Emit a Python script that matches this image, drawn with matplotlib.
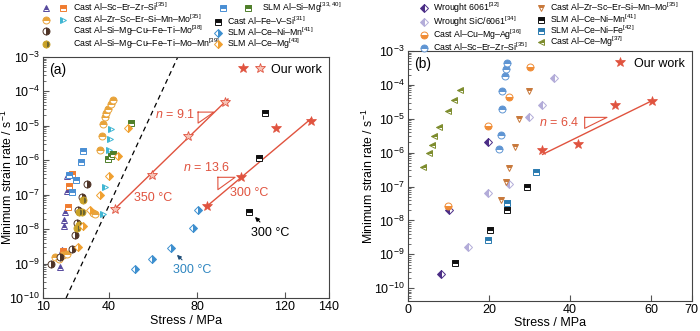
import numpy as np
import matplotlib
matplotlib.use("Agg")
import matplotlib.pyplot as plt
from matplotlib.lines import Line2D
from matplotlib.legend_handler import HandlerTuple
from matplotlib.ticker import LogLocator, NullFormatter, FixedLocator

plt.rcParams['font.family'] = ['Liberation Sans', 'DejaVu Sans']
plt.rcParams['mathtext.fontset'] = 'custom'
plt.rcParams['mathtext.rm'] = 'Liberation Sans'
plt.rcParams['mathtext.it'] = 'Liberation Sans:italic'
plt.rcParams['font.size'] = 9

# ---------------- panel (a) data ----------------
tri_scerzr_x = [17.7, 18.5, 19.5, 19.5, 20.0, 20.8, 21.0]
tri_scerzr_y = [8.1e-10, 2.5e-9, 1.2e-8, 1.9e-8, 3.2e-8, 1.3e-7, 3.5e-7]
sq_scerzr_x = [19.2, 21.5, 22.0, 23.0]
sq_scerzr_y = [2.3e-9, 4.5e-8, 1.8e-7, 4.0e-7]
circ_mnmo_x = [15.5, 17.4, 19.2, 20.8, 32.9, 33.6, 35.9, 36.7, 37.4, 38.2, 38.6, 39.7, 40.8, 41.7]
circ_mnmo_y = [1.5e-9, 1.4e-9, 1.8e-9, 1.9e-9, 2.9e-8, 2.8e-8, 2.0e-6, 5.1e-6, 1.1e-5,
               1.8e-5, 2.3e-5, 3.0e-5, 4.3e-5, 5.6e-5]
rtri_mnmo_x = [37.4, 38.2, 40.1, 40.5, 40.9]
rtri_mnmo_y = [2.8e-8, 1.7e-7, 2.0e-6, 4.1e-6, 7.9e-6]
circ_mo_x = [13.6, 17.7, 23.0, 24.5, 25.3, 26.0, 27.6, 29.9]
circ_mo_y = [9.8e-10, 1.6e-9, 2.6e-9, 6.8e-9, 1.5e-8, 3.6e-8, 8.7e-8, 2.1e-7]
circ_momn_x = [25.3, 26.5, 26.5, 27.6, 28.0]
circ_momn_y = [1.1e-8, 1.3e-8, 3.2e-8, 3.1e-8, 7.1e-8]
sq_slm_blue_x = [21.9, 23.0, 25.0, 27.1, 28.0]
sq_slm_blue_y = [3.7e-7, 1.2e-7, 2.6e-7, 9.1e-7, 1.9e-6]
sq_slm_green_x = [39.7, 40.8, 41.7, 49.9]
sq_slm_green_y = [1.1e-6, 1.3e-6, 1.5e-6, 1.2e-5]
sq_fevsi_x = [103.8, 108.2, 110.9]
sq_fevsi_y = [3.2e-8, 1.2e-6, 2.3e-5]
dia_nimn_x = [51.8, 59.4, 68.0, 78.3, 80.6]
dia_nimn_y = [6.9e-10, 1.35e-9, 2.8e-9, 1.1e-8, 3.5e-8]
dia_cemg_x = [26.0, 28.3, 31.4, 36.0, 40.1, 44.2, 48.8]
dia_cemg_y = [3.1e-9, 1.2e-8, 3.5e-8, 1.0e-7, 3.6e-7, 1.3e-6, 8.5e-6]
star350_x = [42.7, 59.7, 75.8, 92.7]
star350_y = [3.9e-8, 3.7e-7, 5.1e-6, 4.8e-5]
star300_x = [84.7, 99.9, 115.9, 131.7]
star300_y = [4.8e-8, 3.2e-7, 8.5e-6, 1.4e-5]
fit350_x = [42.7, 94.1]
fit350_y = [3.9e-8, 6.0e-5]
fit300_x = [84.1, 132.1]
fit300_y = [4.4e-8, 1.66e-5]
dash_x = [20.5, 71.3]
dash_y = [1e-10, 1e-3]
slope1_x = [80.5, 87.7, 80.5, 80.5]
slope1_y = [2.5e-5, 2.5e-5, 1.2e-5, 2.5e-5]
slope2_x = [89.5, 97.3, 89.5, 89.5]
slope2_y = [3.2e-7, 3.2e-7, 1.4e-7, 3.2e-7]

# ---------------- panel (b) data ----------------
w6061_x = [8.2, 10.0, 19.8]
w6061_y = [2.7e-10, 2.0e-8, 2.0e-6]
sic6061_x = [14.7, 19.8, 25.0, 29.9, 33.0, 36.1]
sic6061_y = [1.6e-9, 6.6e-8, 1.2e-7, 1.1e-5, 2.6e-5, 1.6e-4]
cumgag_x = [9.8, 19.8, 24.9, 30.0]
cumgag_y = [2.6e-8, 6.1e-6, 4.4e-5, 3.4e-4]
scerzr_b_x = [22.4, 22.9, 23.1, 23.2, 23.9, 24.2, 24.5]
scerzr_b_y = [1.3e-6, 3.3e-6, 2.0e-5, 6.7e-5, 1.8e-4, 2.9e-4, 4.5e-4]
mnmo_b_x = [22.9, 24.1, 24.9, 26.3, 27.3, 29.9]
mnmo_b_y = [4.0e-8, 1.4e-7, 3.5e-7, 1.5e-6, 9.8e-6, 6.7e-5]
nimn_b_x = [11.7, 20.2, 24.5, 29.3]
nimn_b_y = [5.6e-10, 5.2e-9, 2.0e-8, 9.8e-8]
nife_b_x = [19.8, 24.5, 31.5]
nife_b_y = [2.6e-9, 3.2e-8, 2.6e-7]
cemg_b_x = [3.7, 5.2, 5.8, 6.4, 7.6, 9.8, 11.3, 12.9]
cemg_b_y = [3.7e-7, 1.0e-6, 1.7e-6, 3.0e-6, 5.6e-6, 1.7e-5, 3.6e-5, 7.1e-5]
star_b_x = [33.0, 42.0, 51.0, 60.2]
star_b_y = [1.2e-6, 1.8e-6, 2.6e-5, 3.4e-5]
fit_b_x = [33.2, 60.2]
fit_b_y = [8.9e-7, 3.4e-5]
slope_b_x = [43.6, 49.1, 43.6, 43.6]
slope_b_y = [1.1e-5, 1.1e-5, 5.2e-6, 1.1e-5]

red = '#e0533f'


def mk(marker, color, fs='top', alt='white', ms=5.0):
    return dict(marker=marker, linestyle='none', color=color, mec=color, mfc=color,
                markerfacecoloralt=alt, fillstyle=fs, ms=ms, mew=0.7)


st_tri = mk('^', '#574a9e')
st_sq_or = mk('s', '#f07c30', ms=4.5)
st_circ_gold = mk('o', '#e8a33a')
st_rtri = mk('>', '#3fb6d3', fs='left')
st_circ_brown = mk('o', '#4e3326', fs='right')
st_circ_olive = mk('o', '#c9a227', fs='left', alt='#6d6530')
st_sq_blue = mk('s', '#4a8fd4', ms=4.5)
st_sq_green = mk('s', '#4f7f2a', ms=4.5)
st_sq_black = mk('s', '#111111', ms=4.5)
st_dia_blue = mk('D', '#3d8fcf', fs='right', ms=4.5)
st_dia_orange = mk('D', '#f0a030', fs='right', ms=4.5)
st_star = dict(marker='*', linestyle='none', color=red, mec=red, mfc=red, ms=7, mew=0.5)
st_star_light = dict(marker='*', linestyle='none', color=red, mec=red, mfc='#f6c3b6', ms=7, mew=0.6)

st_w6061 = mk('D', '#4b2d86', fs='left', ms=4.5)
st_sic = mk('D', '#b3acd9', fs='left', ms=4.5)
st_cumgag = mk('o', '#f08c35', fs='bottom')
st_scerzr_b = mk('o', '#5f95d3', fs='top')
st_mnmo_b = mk('v', '#c8783a', fs='top')
st_nimn_b = mk('s', '#111111', ms=4.5)
st_nife_b = mk('s', '#2b7bb0', ms=4.5)
st_cemg_b = mk('<', '#7d8c2d', fs='top')

fig = plt.figure(figsize=(7, 3.31), dpi=100)
axa = fig.add_axes([0.0614, 0.0997, 0.4086, 0.7283])
axb = fig.add_axes([0.583, 0.0906, 0.405, 0.7554])

# ---------- (a) ----------
axa.plot(dash_x, dash_y, color='black', ls=(0, (4, 3)), lw=0.9, zorder=1)
axa.plot(fit350_x, fit350_y, color=red, lw=1.0, zorder=1)
axa.plot(fit300_x, fit300_y, color=red, lw=1.0, zorder=1)
axa.plot(slope1_x, slope1_y, color=red, lw=0.8)
axa.plot(slope2_x, slope2_y, color=red, lw=0.8)

axa.plot(tri_scerzr_x, tri_scerzr_y, **st_tri)
axa.plot(sq_scerzr_x, sq_scerzr_y, **st_sq_or)
axa.plot(circ_mnmo_x, circ_mnmo_y, **st_circ_gold)
axa.plot(rtri_mnmo_x, rtri_mnmo_y, **st_rtri)
axa.plot(circ_mo_x, circ_mo_y, **st_circ_brown)
axa.plot(circ_momn_x, circ_momn_y, **st_circ_olive)
axa.plot(sq_slm_blue_x, sq_slm_blue_y, **st_sq_blue)
axa.plot(sq_slm_green_x, sq_slm_green_y, **st_sq_green)
axa.plot(sq_fevsi_x, sq_fevsi_y, **st_sq_black)
axa.plot(dia_nimn_x, dia_nimn_y, **st_dia_blue)
axa.plot(dia_cemg_x, dia_cemg_y, **st_dia_orange)
axa.plot(star350_x, star350_y, **st_star_light)
axa.plot(star300_x, star300_y, **st_star)

axa.text(79.1, 2.1e-5, r'$n$ = 9.1', color=red, fontsize=9, ha='right', va='center')
axa.text(84.5, 6.0e-7, r'$n$ = 13.6', color=red, fontsize=9, ha='center', va='center')
axa.text(60, 7.9e-8, '350 °C', color=red, fontsize=9, ha='center', va='center')
axa.text(103.6, 1.1e-7, '300 °C', color=red, fontsize=9, ha='center', va='center')
axa.text(113.2, 7.8e-9, '300 °C', color='black', fontsize=9, ha='center', va='center')
axa.text(77.7, 6.5e-10, '300 °C', color='#2f86c0', fontsize=9, ha='center', va='center')
axa.annotate('', xy=(105.5, 10**-7.59), xytext=(109.5, 10**-7.85),
             arrowprops=dict(arrowstyle='-|>', color='black', lw=0.8, mutation_scale=6))
axa.annotate('', xy=(70.0, 10**-8.69), xytext=(74.1, 10**-8.95),
             arrowprops=dict(arrowstyle='-|>', color='#1f4e79', lw=0.8, mutation_scale=6))
axa.text(0.02, 0.975, '(a)', transform=axa.transAxes, fontsize=10, va='top', ha='left')

axa.set_xlim(10, 140)
axa.xaxis.set_major_locator(FixedLocator([10, 40, 80, 120, 140]))

# ---------- (b) ----------
axb.plot(fit_b_x, fit_b_y, color=red, lw=1.0, zorder=1)
axb.plot(slope_b_x, slope_b_y, color=red, lw=0.8)
axb.plot(w6061_x, w6061_y, **st_w6061)
axb.plot(sic6061_x, sic6061_y, **st_sic)
axb.plot(cumgag_x, cumgag_y, **st_cumgag)
axb.plot(scerzr_b_x, scerzr_b_y, **st_scerzr_b)
axb.plot(mnmo_b_x, mnmo_b_y, **st_mnmo_b)
axb.plot(nimn_b_x, nimn_b_y, **st_nimn_b)
axb.plot(nife_b_x, nife_b_y, **st_nife_b)
axb.plot(cemg_b_x, cemg_b_y, **st_cemg_b)
axb.plot(star_b_x, star_b_y, **st_star)
axb.text(42.2, 7.6e-6, r'$n$ = 6.4', color=red, fontsize=9, ha='right', va='center')
axb.text(0.02, 0.975, '(b)', transform=axb.transAxes, fontsize=10, va='top', ha='left')
axb.set_xlim(0, 70)
axb.xaxis.set_major_locator(FixedLocator([0, 20, 40, 60, 70]))

for ax, ylo in ((axa, 1e-10), (axb, 4.2e-11)):
    ax.set_yscale('log')
    ax.set_ylim(ylo, 1e-3)
    ax.yaxis.set_major_locator(LogLocator(base=10, numticks=20))
    ax.yaxis.set_minor_locator(LogLocator(base=10, subs=np.arange(2, 10), numticks=20))
    ax.yaxis.set_minor_formatter(NullFormatter())
    ax.tick_params(direction='in', which='both', top=False, right=False, labelsize=9,
                   color='#555555', pad=2.5)
    ax.tick_params(which='major', length=4)
    ax.tick_params(which='minor', length=2)
    for s in ax.spines.values():
        s.set_color('#444444')
        s.set_linewidth(0.8)
    ax.set_xlabel('Stress / MPa', fontsize=9)
    ax.set_ylabel('Minimum strain rate / s$^{-1}$', fontsize=8.8)

axa.xaxis.set_label_coords(0.5, -0.072)
axb.xaxis.set_label_coords(0.5, -0.062)
axa.yaxis.set_label_coords(-0.097, 0.5)
axb.yaxis.set_label_coords(-0.112, 0.5)

# ---------- legends ----------
H = lambda st: Line2D([], [], **st)
blank = Line2D([], [], linestyle='none')
tup = {tuple: HandlerTuple(ndivide=None, pad=0.6)}
leg_kw = dict(frameon=False, fontsize=6.3, borderpad=0, borderaxespad=0, labelspacing=-0.12,
              handletextpad=0.5, loc='upper left')

fig.legend([(H(st_tri), H(st_sq_or)), (H(st_circ_gold), H(st_rtri)),
            (H(st_circ_brown), blank), (H(st_circ_olive), blank)],
           ['Cast Al–Sc–Er–Zr–Si$^{[35]}$', 'Cast Al–Zr–Sc–Er–Si–Mn–Mo$^{[35]}$',
            'Cast Al–Si–Mg–Cu–Fe–Ti–Mo$^{[38]}$', 'Cast Al–Si–Mg–Cu–Fe–Ti–Mo–Mn$^{[39]}$'],
           handler_map=tup, handlelength=3.2, bbox_to_anchor=(0.058, 0.997), **leg_kw)
fig.legend([(H(st_sq_blue), H(st_sq_green))], ['SLM Al–Si–Mg$^{[33,40]}$'],
           handler_map=tup, handlelength=5.0, bbox_to_anchor=(0.305, 0.997), **leg_kw)
fig.legend([H(st_sq_black), H(st_dia_blue), H(st_dia_orange)],
           ['Cast Al–Fe–V–Si$^{[31]}$', 'SLM Al–Ce–Ni–Mn$^{[41]}$', 'SLM Al–Ce–Mg$^{[43]}$'],
           handlelength=1.0, numpoints=1, bbox_to_anchor=(0.305, 0.957), **leg_kw)

fig.legend([H(st_w6061), H(st_sic), H(st_cumgag), H(st_scerzr_b)],
           ['Wrought 6061$^{[32]}$', 'Wrought SiC/6061$^{[34]}$', 'Cast Al–Cu–Mg–Ag$^{[36]}$',
            'Cast Al–Sc–Er–Zr–Si$^{[35]}$'],
           handlelength=1.0, numpoints=1, bbox_to_anchor=(0.6, 0.997), **leg_kw)
fig.legend([H(st_mnmo_b), H(st_nimn_b), H(st_nife_b), H(st_cemg_b)],
           ['Cast Al–Zr–Sc–Er–Si–Mn–Mo$^{[35]}$', 'SLM Al–Ce–Ni–Mn$^{[41]}$',
            'SLM Al–Ce–Ni–Fe$^{[42]}$', 'Cast Al–Ce–Mg$^{[37]}$'],
           handlelength=1.0, numpoints=1, bbox_to_anchor=(0.767, 0.997), **leg_kw)

axa.legend([(H(st_star), H(st_star_light))], ['Our work'], handler_map=tup,
           handlelength=2.2, loc='upper right', frameon=False, fontsize=9,
           borderaxespad=0.15, handletextpad=0.5)
axb.legend([H(st_star)], ['Our work'], numpoints=1, handlelength=1.0, loc='upper right',
           frameon=False, fontsize=9, borderaxespad=0.15, handletextpad=0.6)

fig.savefig('out.png', dpi=100)
